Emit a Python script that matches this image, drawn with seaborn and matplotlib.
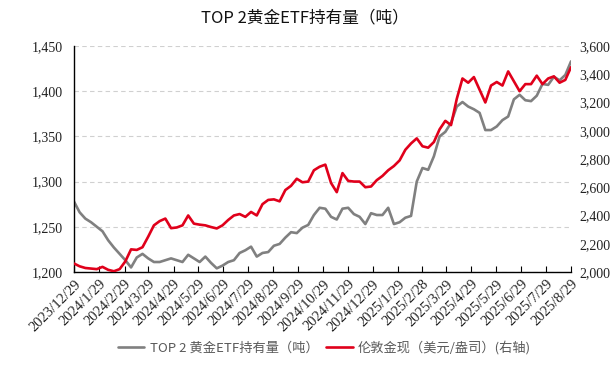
import pandas as pd
import numpy as np
import matplotlib
matplotlib.use('Agg')
import matplotlib.pyplot as plt
import seaborn as sns

# weekly readings, 2023/12/29 .. 2025/8/29
start_date = '2023-12-29'
etf_tons = [1278, 1266, 1259, 1255, 1250, 1245, 1235, 1227, 1220, 1213,
            1205, 1216, 1220, 1215, 1211, 1211, 1213, 1215, 1213, 1211,
            1219, 1215, 1211, 1217, 1210, 1204, 1207, 1211, 1213, 1221,
            1224, 1228, 1217, 1221, 1222, 1229, 1231, 1238, 1244, 1243,
            1249, 1252, 1263, 1271, 1270, 1261, 1258, 1270, 1271, 1264,
            1261, 1253, 1265, 1263, 1263, 1271, 1253, 1255, 1260, 1262,
            1300, 1315, 1313, 1328, 1350, 1355, 1365, 1383, 1388, 1383,
            1380, 1376, 1357, 1357, 1361, 1368, 1372, 1391, 1396, 1390,
            1389, 1395, 1408, 1407, 1416, 1412, 1418, 1433]
gold_usd = [2060, 2040, 2028, 2024, 2020, 2036, 2015, 2005, 2020, 2075,
            2160, 2156, 2175, 2250, 2330, 2360, 2378, 2310, 2315, 2330,
            2400, 2342, 2335, 2330, 2318, 2308, 2330, 2368, 2400, 2410,
            2390, 2425, 2400, 2480, 2510, 2514, 2500, 2580, 2610, 2660,
            2635, 2640, 2720, 2745, 2760, 2630, 2565, 2700, 2645, 2640,
            2640, 2600, 2605, 2650, 2680, 2720, 2750, 2790, 2865, 2910,
            2946, 2890, 2880, 2920, 3010, 3070, 3040, 3225, 3370, 3340,
            3380, 3290, 3200, 3320, 3345, 3320, 3420, 3350, 3280, 3330,
            3330, 3390, 3330, 3370, 3385, 3340, 3360, 3450]

tick_labels = ['2023/12/29', '2024/1/29', '2024/2/29', '2024/3/29', '2024/4/29',
               '2024/5/29', '2024/6/29', '2024/7/29', '2024/8/29', '2024/9/29',
               '2024/10/29', '2024/11/29', '2024/12/29', '2025/1/29', '2025/2/28',
               '2025/3/29', '2025/4/29', '2025/5/29', '2025/6/29', '2025/7/29',
               '2025/8/29']

dates = pd.date_range(start_date, periods=len(etf_tons), freq='7D')
df = pd.DataFrame({'date': dates, 'etf': etf_tons, 'gold': gold_usd})

sns.set_theme(style='white')
plt.rcParams['font.family'] = ['Noto Sans CJK SC', 'DejaVu Sans']

gray = '#808080'
red = '#e0001b'
serif = 'Liberation Serif'

fig = plt.figure(figsize=(6.16, 3.68), dpi=100)
ax = fig.add_axes([0.120, 0.261, 0.807, 0.614])
ax2 = ax.twinx()

sns.lineplot(data=df, x='date', y='etf', ax=ax, color=gray, linewidth=1.9,
             label='TOP 2 黄金ETF持有量（吨）', legend=False)
sns.lineplot(data=df, x='date', y='gold', ax=ax2, color=red, linewidth=1.9,
             label='伦敦金现（美元/盎司）(右轴)', legend=False)

ax.set_ylim(1200, 1450)
ax.set_yticks(np.arange(1200, 1451, 50))
ax.set_yticklabels([f'{v:,}' for v in range(1200, 1451, 50)], fontfamily=serif, fontsize=10)
ax2.set_ylim(2000, 3600)
ax2.set_yticks(np.arange(2000, 3601, 200))
ax2.set_yticklabels([f'{v:,}' for v in range(2000, 3601, 200)], fontfamily=serif, fontsize=10)

tick_dates = pd.to_datetime(tick_labels, format='%Y/%m/%d')
ax.set_xlim(tick_dates[0], tick_dates[-1])
ax.set_xticks(tick_dates)
ax.set_xticklabels(tick_labels, rotation=45, ha='right', rotation_mode='anchor',
                   fontfamily=serif, fontsize=10.5)

ax.set_xlabel('')
ax.set_ylabel('')
ax2.set_ylabel('')

ax.grid(axis='y', linestyle=(0, (4, 3)), color='#d0d0d0', linewidth=0.8)
ax.grid(axis='x', visible=False)
ax2.grid(False)

for a in (ax, ax2):
    for s in ('top', 'right'):
        a.spines[s].set_visible(False)
ax2.spines['left'].set_visible(False)
ax2.spines['bottom'].set_visible(False)
ax.spines['left'].set_color('black')
ax.spines['bottom'].set_color('black')
ax.spines['left'].set_linewidth(1.0)
ax.spines['bottom'].set_linewidth(1.0)

ax.tick_params(axis='x', direction='in', length=4, width=0.8, color='black', pad=4,
               bottom=True, colors='#222222')
ax.tick_params(axis='y', length=0, pad=8, colors='#222222')
ax2.tick_params(axis='y', length=0, pad=6, colors='#222222')

fig.suptitle('TOP 2黄金ETF持有量（吨）', x=0.495, y=0.975, fontsize=12, color='#111111')

h1, l1 = ax.get_legend_handles_labels()
h2, l2 = ax2.get_legend_handles_labels()
fig.legend(h1 + h2, l1 + l2, loc='center', bbox_to_anchor=(0.527, 0.055), ncol=2,
           frameon=False, fontsize=9.5, labelcolor='#595959', handlelength=2.0,
           columnspacing=0.6, handletextpad=0.4)

fig.savefig('out.png', dpi=100)
